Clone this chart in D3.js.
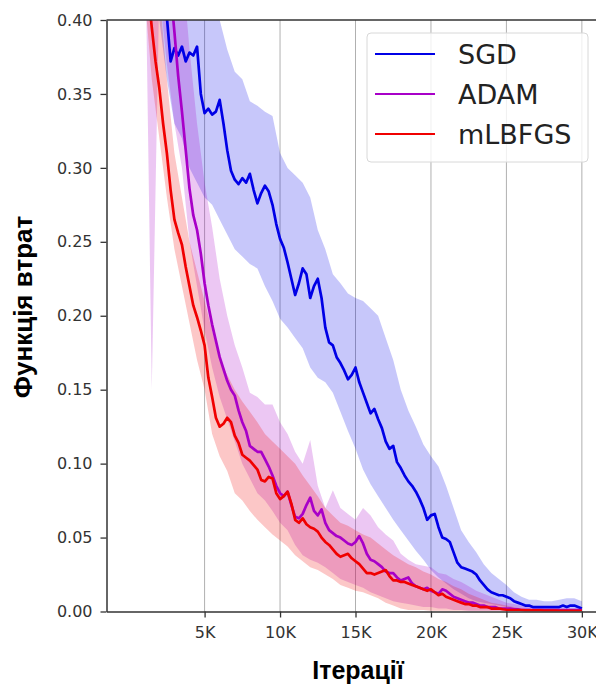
<!DOCTYPE html>
<html lang="uk">
  <head>
    <meta charset="UTF-8" />
    <title>loss curves</title>
    <style>
      body { margin: 0; background: #fff; }
    </style>
  </head>
  <body>
    <svg id="chart" width="596" height="686"></svg>
    <script src="https://cdn.jsdelivr.net/npm/d3@7"></script>
    <script>
      // iterations are logged every 250 steps for the means, every 500 for the bands
      var meanIters = d3.range(1000, 30001, 250);
      var bandIters = d3.range(1000, 30001, 500);

      var sgdLoss = [
        0.52, 0.50, 0.48, 0.46, 0.44, 0.42, 0.402, 0.372,
        0.381, 0.376, 0.382, 0.372, 0.378, 0.376, 0.382, 0.350,
        0.337, 0.340, 0.336, 0.338, 0.346, 0.330, 0.312, 0.298,
        0.292, 0.289, 0.293, 0.290, 0.296, 0.285, 0.276, 0.283,
        0.288, 0.284, 0.275, 0.262, 0.252, 0.246, 0.236, 0.225,
        0.214, 0.222, 0.232, 0.228, 0.212, 0.220, 0.225, 0.212,
        0.192, 0.182, 0.180, 0.172, 0.168, 0.163, 0.157, 0.160,
        0.165, 0.155, 0.148, 0.141, 0.134, 0.137, 0.130, 0.124,
        0.115, 0.110, 0.112, 0.101, 0.097, 0.092, 0.088, 0.085,
        0.081, 0.076, 0.070, 0.062, 0.065, 0.066, 0.057, 0.050,
        0.049, 0.047, 0.040, 0.033, 0.030, 0.029, 0.028, 0.027,
        0.025, 0.021, 0.018, 0.015, 0.013, 0.012, 0.011, 0.011,
        0.010, 0.009, 0.007, 0.006, 0.005, 0.004, 0.004, 0.003,
        0.003, 0.003, 0.003, 0.003, 0.003, 0.003, 0.003, 0.004,
        0.003, 0.004, 0.004, 0.003, 0.002
      ];
      var adamLoss = [
        0.62, 0.60, 0.58, 0.56, 0.53, 0.50, 0.46, 0.42,
        0.392, 0.362, 0.338, 0.312, 0.286, 0.268, 0.258, 0.242,
        0.222, 0.207, 0.194, 0.183, 0.172, 0.164, 0.156, 0.150,
        0.146, 0.136, 0.128, 0.122, 0.112, 0.110, 0.108, 0.108,
        0.103, 0.098, 0.092, 0.085, 0.080, 0.078, 0.081, 0.072,
        0.064, 0.063, 0.066, 0.072, 0.077, 0.068, 0.065, 0.069,
        0.060, 0.055, 0.053, 0.051, 0.050, 0.048, 0.046, 0.045,
        0.047, 0.051, 0.046, 0.039, 0.035, 0.034, 0.032, 0.030,
        0.027, 0.026, 0.026, 0.023, 0.021, 0.022, 0.023, 0.019,
        0.017, 0.016, 0.015, 0.016, 0.014, 0.013, 0.012, 0.015,
        0.014, 0.012, 0.010, 0.009, 0.008, 0.007, 0.006, 0.006,
        0.005, 0.004, 0.004, 0.003, 0.003, 0.003, 0.002, 0.002,
        0.002, 0.002, 0.0015, 0.0015, 0.001, 0.001, 0.001, 0.001,
        0.001, 0.001, 0.001, 0.001, 0.001, 0.001, 0.001, 0.001,
        0.001, 0.001, 0.001, 0.001, 0.001
      ];
      var lbfgsLoss = [
        0.46, 0.42, 0.395, 0.372, 0.354, 0.330, 0.310, 0.285,
        0.265, 0.256, 0.248, 0.233, 0.220, 0.207, 0.199, 0.190,
        0.180, 0.158, 0.145, 0.131, 0.125, 0.127, 0.131, 0.128,
        0.119, 0.114, 0.106, 0.104, 0.102, 0.099, 0.096, 0.089,
        0.088, 0.091, 0.090, 0.080, 0.076, 0.078, 0.081, 0.073,
        0.062, 0.060, 0.063, 0.059, 0.057, 0.056, 0.054, 0.050,
        0.047, 0.045, 0.042, 0.039, 0.037, 0.038, 0.039, 0.036,
        0.034, 0.032, 0.029, 0.026, 0.026, 0.025, 0.026, 0.027,
        0.028, 0.024, 0.021, 0.021, 0.020, 0.020, 0.019, 0.018,
        0.017, 0.016, 0.015, 0.014, 0.015, 0.013, 0.011, 0.012,
        0.010, 0.009, 0.008, 0.007, 0.006, 0.005, 0.005, 0.004,
        0.004, 0.003, 0.003, 0.003, 0.002, 0.002, 0.002, 0.0015,
        0.0012, 0.001, 0.001, 0.001, 0.001, 0.0008, 0.0008, 0.0008,
        0.0007, 0.0007, 0.0006, 0.0006, 0.0006, 0.0006, 0.0005, 0.0005,
        0.0005, 0.0005, 0.0005, 0.0005, 0.0005
      ];

      // spread bands (min / max over runs)
      var sgdLow = [
        0.45, 0.42, 0.40, 0.36, 0.33, 0.32, 0.30, 0.29,
        0.28, 0.275, 0.265, 0.255, 0.245, 0.24, 0.235, 0.232,
        0.22, 0.21, 0.198, 0.192, 0.185, 0.178, 0.165, 0.158,
        0.155, 0.148, 0.135, 0.122, 0.11, 0.096, 0.086, 0.078,
        0.07, 0.062, 0.055, 0.048, 0.041, 0.035, 0.028, 0.023,
        0.019, 0.015, 0.012, 0.009, 0.007, 0.006, 0.005, 0.004,
        0.003, 0.002, 0.002, 0.001, 0.001, 0.001, 0.001, 0.001,
        0.001, 0.001, 0.001
      ];
      var sgdHigh = [
        0.60, 0.58, 0.55, 0.52, 0.50, 0.48, 0.46, 0.45,
        0.44, 0.42, 0.40, 0.38, 0.365, 0.36, 0.345, 0.342,
        0.338, 0.335, 0.31, 0.30, 0.295, 0.29, 0.28, 0.258,
        0.245, 0.228, 0.222, 0.215, 0.212, 0.21, 0.205, 0.20,
        0.185, 0.17, 0.15, 0.136, 0.125, 0.113, 0.105, 0.098,
        0.085, 0.07, 0.055, 0.047, 0.04, 0.032, 0.026, 0.022,
        0.018, 0.013, 0.01, 0.008, 0.008, 0.007, 0.007, 0.008,
        0.009, 0.009, 0.007
      ];
      var adamLow = [
        0.50, 0.15, 0.42, 0.37, 0.33, 0.30, 0.25, 0.22,
        0.19, 0.165, 0.145, 0.13, 0.115, 0.10, 0.09, 0.08,
        0.075, 0.068, 0.06, 0.055, 0.045, 0.038, 0.035, 0.033,
        0.03, 0.026, 0.022, 0.02, 0.018, 0.016, 0.013, 0.011,
        0.009, 0.007, 0.006, 0.005, 0.004, 0.003, 0.003, 0.002,
        0.002, 0.001, 0.001, 0.0005, 0.0005, 0.0005, 0.0005, 0.0005,
        0.0005, 0.0005, 0.0005, 0.0005, 0.0005, 0.0005, 0.0005, 0.0005,
        0.0005, 0.0005, 0.0005
      ];
      var adamHigh = [
        0.70, 0.68, 0.65, 0.60, 0.50, 0.44, 0.38, 0.33,
        0.29, 0.26, 0.225, 0.20, 0.18, 0.165, 0.148, 0.145,
        0.14, 0.14, 0.128, 0.12, 0.108, 0.10, 0.116, 0.085,
        0.07, 0.082, 0.07, 0.066, 0.062, 0.07, 0.065, 0.057,
        0.052, 0.048, 0.039, 0.035, 0.032, 0.031, 0.03, 0.026,
        0.025, 0.022, 0.02, 0.017, 0.014, 0.012, 0.01, 0.008,
        0.006, 0.005, 0.004, 0.003, 0.003, 0.002, 0.002, 0.002,
        0.002, 0.002, 0.002
      ];
      var lbfgsLow = [
        0.42, 0.36, 0.32, 0.28, 0.245, 0.22, 0.195, 0.17,
        0.15, 0.12, 0.105, 0.095, 0.08, 0.075, 0.068, 0.062,
        0.057, 0.052, 0.048, 0.044, 0.038, 0.034, 0.03, 0.028,
        0.025, 0.022, 0.018, 0.016, 0.014, 0.013, 0.011, 0.009,
        0.006, 0.004, 0.002, 0.001, 0.001, 0.001, 0.0005, 0.0005,
        0.0005, 0.0005, 0.0005, 0.0005, 0.0005, 0.0005, 0.0005, 0.0005,
        0.0005, 0.0005, 0.0005, 0.0005, 0.0005, 0.0005, 0.0005, 0.0005,
        0.0005, 0.0005, 0.0005
      ];
      var lbfgsHigh = [
        0.55, 0.50, 0.42, 0.36, 0.31, 0.28, 0.25, 0.23,
        0.21, 0.19, 0.17, 0.16, 0.15, 0.142, 0.135, 0.128,
        0.12, 0.115, 0.11, 0.105, 0.10, 0.092, 0.085, 0.078,
        0.07, 0.065, 0.06, 0.058, 0.055, 0.052, 0.05, 0.046,
        0.042, 0.038, 0.035, 0.032, 0.03, 0.027, 0.025, 0.022,
        0.02, 0.017, 0.015, 0.012, 0.01, 0.008, 0.006, 0.005,
        0.004, 0.003, 0.002, 0.002, 0.001, 0.001, 0.001, 0.001,
        0.001, 0.001, 0.001
      ];

      var seriesNames = ['SGD', 'ADAM', 'mLBFGS'];
      var seriesColors = ['#0000e6', '#a800c8', '#f00000'];
      var xTickValues = [5000, 10000, 15000, 20000, 25000, 30000];
      var xTickLabels = ['5K', '10K', '15K', '20K', '25K', '30K'];
      var yTickValues = [0, 0.05, 0.1, 0.15, 0.2, 0.25, 0.3, 0.35, 0.4];

      var series = [
        { name: seriesNames[0], color: seriesColors[0], mean: sgdLoss, lo: sgdLow, hi: sgdHigh },
        { name: seriesNames[1], color: seriesColors[1], mean: adamLoss, lo: adamLow, hi: adamHigh },
        { name: seriesNames[2], color: seriesColors[2], mean: lbfgsLoss, lo: lbfgsLow, hi: lbfgsHigh }
      ];

      var svg = d3.select('#chart');
      // plot box (note: "top" is reserved on window, so use prefixed names)
      var plotLeft = 106.5, plotRight = 604.5, plotTop = 20, plotBottom = 611.5;

      var x = d3.scaleLinear().domain([-1500, 31500]).range([plotLeft, plotRight]);
      var y = d3.scaleLinear().domain([0, 0.4]).range([plotBottom, plotTop]);

      svg.append('defs').append('clipPath').attr('id', 'plot-clip')
        .append('rect')
        .attr('x', plotLeft).attr('y', plotTop)
        .attr('width', plotRight - plotLeft).attr('height', plotBottom - plotTop);

      // vertical grid
      svg.append('g')
        .selectAll('line')
        .data(xTickValues)
        .join('line')
        .attr('x1', d => x(d)).attr('x2', d => x(d))
        .attr('y1', plotTop).attr('y2', plotBottom)
        .attr('stroke', '#b0b0b0')
        .attr('stroke-width', 1);

      var plot = svg.append('g').attr('clip-path', 'url(#plot-clip)');

      var area = d3.area()
        .x((d, i) => x(bandIters[i]))
        .y0(d => y(d[0]))
        .y1(d => y(d[1]));

      plot.append('g')
        .selectAll('path')
        .data(series)
        .join('path')
        .attr('d', s => area(s.lo.map((v, i) => [v, s.hi[i]])))
        .attr('fill', s => s.color)
        .attr('fill-opacity', 0.22);

      var line = d3.line()
        .x((d, i) => x(meanIters[i]))
        .y(d => y(d));

      plot.append('g')
        .attr('fill', 'none')
        .selectAll('path')
        .data(series)
        .join('path')
        .attr('d', s => line(s.mean))
        .attr('stroke', s => s.color)
        .attr('stroke-width', 2.7)
        .attr('stroke-linejoin', 'round');

      // axes
      var yAxis = svg.append('g')
        .attr('transform', `translate(${plotLeft},0)`)
        .call(d3.axisLeft(y).tickValues(yTickValues).tickFormat(d3.format('.2f'))
          .tickSize(6).tickPadding(8).tickSizeOuter(0));

      var xAxis = svg.append('g')
        .attr('transform', `translate(0,${plotBottom})`)
        .call(d3.axisBottom(x).tickValues(xTickValues)
          .tickFormat((d, i) => xTickLabels[i])
          .tickSize(6).tickPadding(9).tickSizeOuter(0));

      [yAxis, xAxis].forEach(g => {
        g.select('.domain').attr('stroke', '#333').attr('stroke-width', 1.5);
        g.selectAll('.tick line').attr('stroke', '#333').attr('stroke-width', 1.3);
        g.selectAll('.tick text')
          .attr('fill', '#333')
          .style('font', '16px "DejaVu Sans", sans-serif');
      });

      // top spine
      svg.append('line')
        .attr('x1', plotLeft).attr('x2', plotRight)
        .attr('y1', plotTop).attr('y2', plotTop)
        .attr('stroke', '#333').attr('stroke-width', 1.5);

      // axis titles
      svg.append('text')
        .attr('transform', 'translate(32,307) rotate(-90)')
        .attr('text-anchor', 'middle')
        .style('font', 'bold 26px "Liberation Sans", Arial, sans-serif')
        .attr('fill', '#000')
        .text('Функція втрат');

      svg.append('text')
        .attr('x', 358)
        .attr('y', 679)
        .attr('text-anchor', 'middle')
        .style('font', 'bold 25px "Liberation Sans", Arial, sans-serif')
        .attr('fill', '#000')
        .text('Ітерації');

      // legend
      var legend = svg.append('g').attr('transform', 'translate(367,33)');
      legend.append('rect')
        .attr('width', 221).attr('height', 129)
        .attr('rx', 4)
        .attr('fill', '#fff').attr('fill-opacity', 0.8)
        .attr('stroke', '#d8d8d8');

      var item = legend.selectAll('g.item')
        .data(series)
        .join('g')
        .attr('class', 'item')
        .attr('transform', (d, i) => `translate(0,${21 + i * 40})`);

      item.append('line')
        .attr('x1', 8).attr('x2', 68)
        .attr('stroke', d => d.color)
        .attr('stroke-width', 2.2);

      item.append('text')
        .attr('x', 91)
        .attr('dy', '0.36em')
        .style('font', '27px "DejaVu Sans", sans-serif')
        .attr('fill', '#222')
        .text(d => d.name);
    </script>
  </body>
</html>
